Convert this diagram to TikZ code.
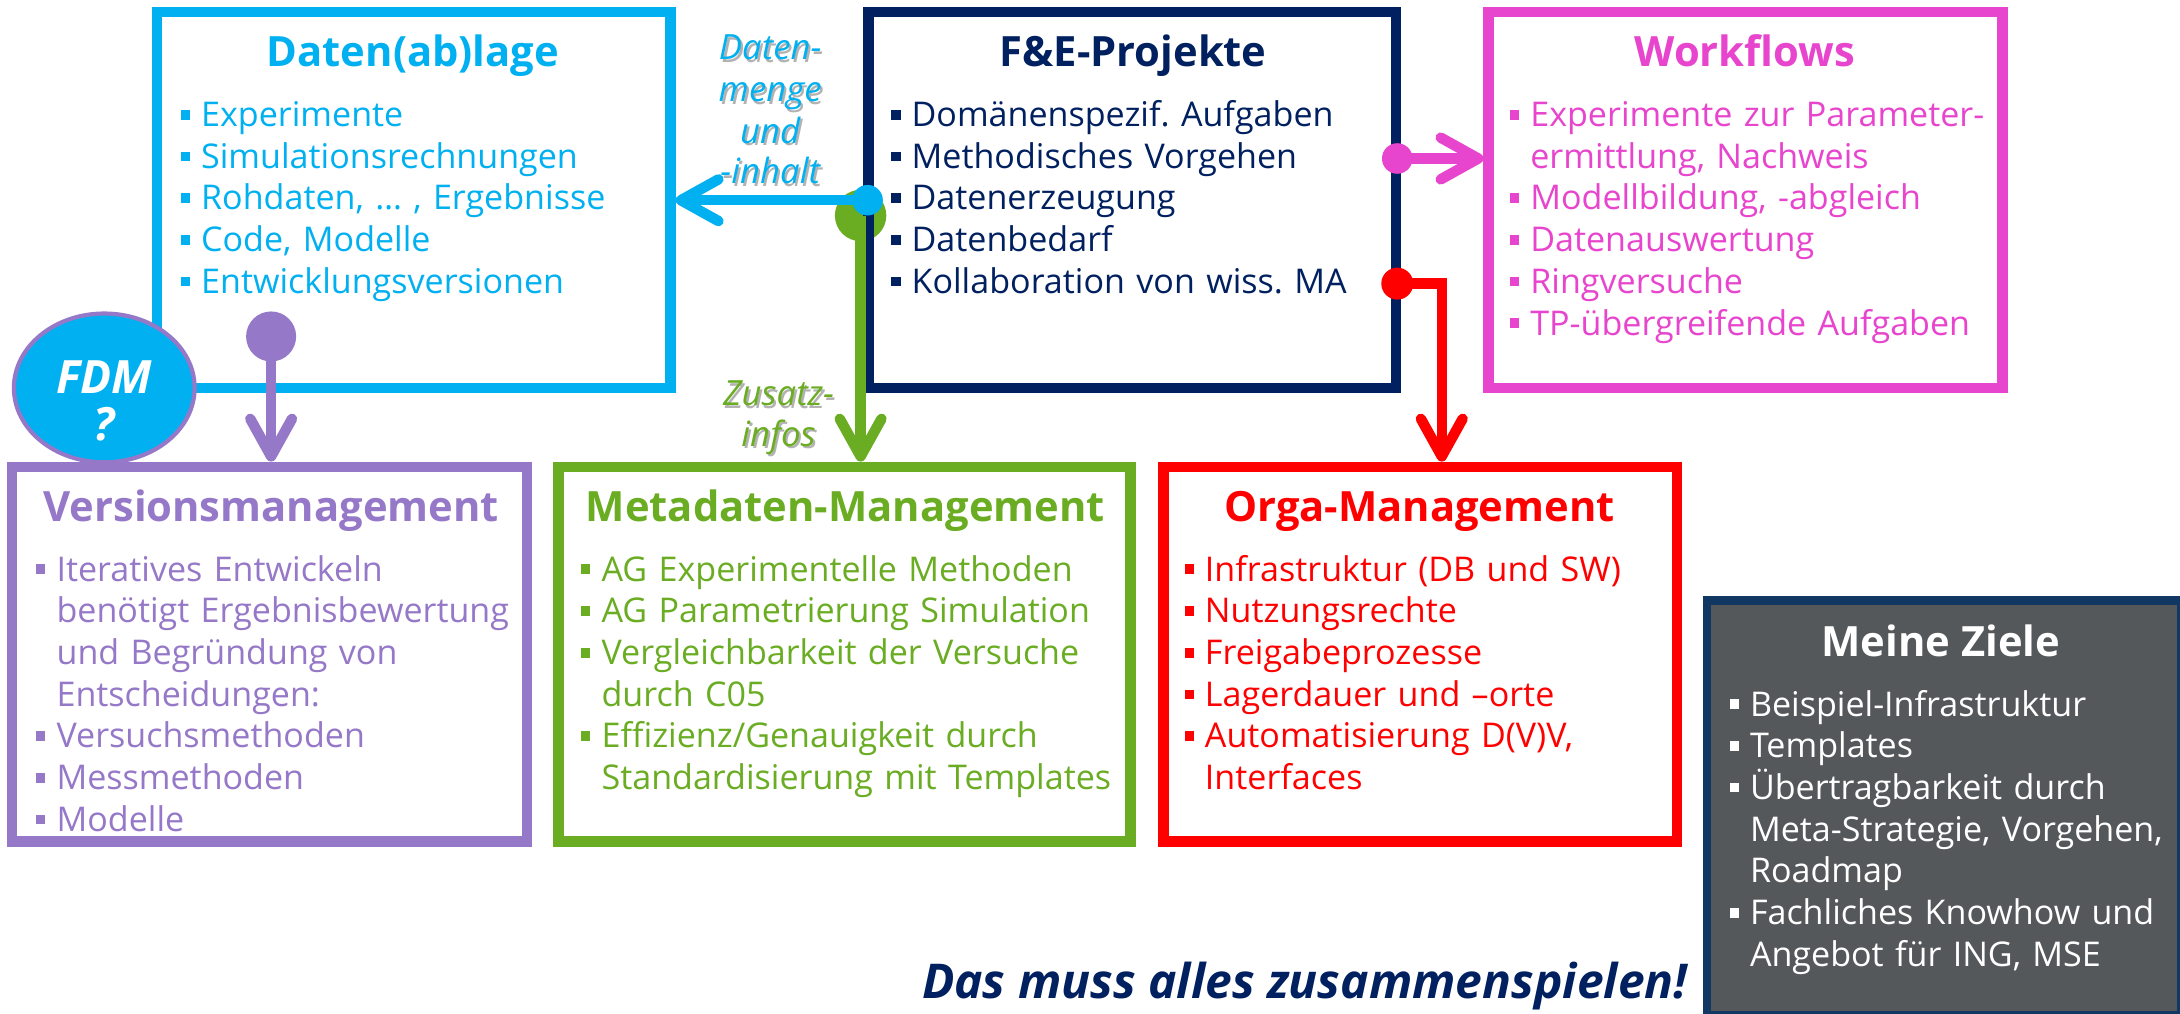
\documentclass[tikz,border=0pt]{standalone}
\usepackage{fontspec}
\setmainfont{Open Sans}
\usetikzlibrary{arrows.meta,shapes.geometric}

\definecolor{cCyan}{HTML}{00B0F0}
\definecolor{cNavy}{HTML}{002060}
\definecolor{cMag}{HTML}{E845CE}
\definecolor{cPurp}{HTML}{9678C8}
\definecolor{cGreen}{HTML}{6AAD23}
\definecolor{cRed}{HTML}{FF0000}
\definecolor{cGray}{HTML}{55585A}
\definecolor{cZiel}{HTML}{113763}

% bulleted lists with square bullets and hanging indent
\newlength\bhang \setlength\bhang{14.5pt}
\newcommand\bodysize{\fontsize{24.5}{30}\selectfont\frenchspacing}
\newcommand\titlesize{\fontsize{30}{36}\selectfont\bfseries}
\newcommand\bmark{\hangindent=\bhang\hangafter=1%
  \makebox[\bhang][l]{\raisebox{5pt}{\rule{6.5pt}{7pt}}}}
\newcommand\bfirst{\noindent\bmark}
\newcommand\bitem{\par\noindent\bmark}

\tikzset{
  box/.style={rectangle, line width=7.5pt, inner sep=0pt},
  ttl/.style={anchor=base, inner sep=0pt, font=\titlesize},
  body/.style={anchor=base west, inner sep=0pt, text width=420pt, font=\bodysize},
  conn/.style={line width=7.5pt},
  tip/.style={-{Straight Barb[length=27pt,width=30pt,round]}},
  dot/.style={circle, inner sep=0pt, minimum size=#1},
  lbl/.style={anchor=base, inner sep=0pt, font=\fontsize{25}{30}\selectfont\itshape},
}

\begin{document}
\begin{tikzpicture}[x=1pt,y=-1pt]
\useasboundingbox[fill=white] (0,0) rectangle (1568,729);

% green link from F&E-Projekte to Metadaten (drawn under the boxes)
\node[dot=37pt, fill=cGreen] (gdot) at (619,155) {};

% boxes
\node[box, draw=cCyan, minimum width=369.5pt, minimum height=270.5pt] (daten) at (297.5,144) {};
\node[box, draw=cNavy, minimum width=379.5pt, minimum height=270.5pt] (fe) at (814.5,144) {};
\node[box, draw=cMag, minimum width=369.5pt, minimum height=270.5pt] (wf) at (1255.5,144) {};
\node[box, draw=cPurp, minimum width=370.5pt, minimum height=269.5pt] (ver) at (194,470.5) {};
\node[box, draw=cGreen, minimum width=411.5pt, minimum height=269.5pt] (meta) at (607.5,470.5) {};
\node[box, draw=cRed, minimum width=369.5pt, minimum height=269.5pt] (orga) at (1021.5,470.5) {};
\node[rectangle, line width=6pt, inner sep=0pt, draw=cZiel, fill=cGray,
      minimum width=341pt, minimum height=298pt] (ziele) at (1398.5,581) {};

\draw[conn, tip, cGreen] (gdot.center) -- (gdot.center |- meta.north);

% Daten(ab)lage
\node[ttl, text=cCyan] (tdaten) at (297,48) {Daten(ab)lage};
\node[body, text=cCyan] (bdaten) at (130,91) {%
  \bfirst Experimente
  \bitem Simulationsrechnungen
  \bitem Rohdaten, … , Ergebnisse
  \bitem Code, Modelle
  \bitem Entwicklungsversionen\par};

% F&E-Projekte
\node[ttl, text=cNavy] (tfe) at (815,48) {F\&E-Projekte};
\node[body, text=cNavy] (bfe) at (641,91) {%
  \bfirst Domänenspezif. Aufgaben
  \bitem Methodisches Vorgehen
  \bitem Datenerzeugung
  \bitem Datenbedarf
  \bitem Kollaboration von wiss. MA\par};

% Workflows
\node[ttl, text=cMag] (twf) at (1255,48) {Workflows};
\node[body, text=cMag] (bwf) at (1086,91) {%
  \bfirst Experimente zur Parameter-\newline ermittlung, Nachweis
  \bitem Modellbildung, -abgleich
  \bitem Datenauswertung
  \bitem Ringversuche
  \bitem TP-übergreifende Aufgaben\par};

% Versionsmanagement
\node[ttl, text=cPurp] (tver) at (195,375) {Versionsmanagement};
\node[body, text=cPurp] (bver) at (26,418) {%
  \bfirst Iteratives Entwickeln\newline benötigt Ergebnisbewertung\newline und Begründung von\newline Entscheidungen:
  \bitem Versuchsmethoden
  \bitem Messmethoden
  \bitem Modelle\par};

% Metadaten-Management
\node[ttl, text=cGreen] (tmeta) at (608,375) {Metadaten-Management};
\node[body, text=cGreen] (bmeta) at (418,418) {%
  \bfirst AG Experimentelle Methoden
  \bitem AG Parametrierung Simulation
  \bitem Vergleichbarkeit der Versuche\newline durch C05
  \bitem Effizienz/Genauigkeit durch\newline Standardisierung mit Templates\par};

% Orga-Management
\node[ttl, text=cRed] (torga) at (1021,375) {Orga-Management};
\node[body, text=cRed] (borga) at (852,418) {%
  \bfirst Infrastruktur (DB und SW)
  \bitem Nutzungsrechte
  \bitem Freigabeprozesse
  \bitem Lagerdauer und –orte
  \bitem Automatisierung D(V)V,\newline Interfaces\par};

% Meine Ziele
\node[ttl, text=white] (tziele) at (1396,472) {Meine Ziele};
\node[body, text=white] (bziele) at (1244,515) {%
  \bfirst Beispiel-Infrastruktur
  \bitem Templates
  \bitem Übertragbarkeit durch\newline Meta-Strategie, Vorgehen,\newline Roadmap
  \bitem Fachliches Knowhow und\newline Angebot für ING, MSE\par};

% connectors
\node[dot=22pt, fill=cCyan] (bdot) at (624,144) {};
\draw[conn, tip, cCyan] (bdot.center) -- (bdot.center -| daten.east);

\node[dot=22pt, fill=cMag] (mdot) at (1005,114) {};
\draw[conn, tip, cMag] (mdot.center) -- (mdot.center -| wf.west);

\node[dot=23pt, fill=cRed] (rdot) at (1005,204) {};
\coordinate (rbend) at (1037,204);
\draw[conn, tip, cRed] (rdot.center) -- (rbend) -- (rbend |- orga.north);

\node[dot=36pt, fill=cPurp] (pdot) at (195,242) {};
\draw[conn, tip, cPurp] (pdot.center) -- (pdot.center |- ver.north);

% connector labels with a soft drop shadow
\foreach \t/\y [count=\i] in {Daten-/43, menge/73, und/103, -inhalt/132} {
  \node[lbl, text=black!30] (sB\i) at (555.5,\y+1.8) {\t};
  \node[lbl, text=cCyan] (lB\i) at (554,\y) {\t};
}
\foreach \t/\y [count=\i] in {Zusatz-/292, infos/321} {
  \node[lbl, text=black!30] (sG\i) at (561.5,\y+1.8) {\t};
  \node[lbl, text=cGreen] (lG\i) at (560,\y) {\t};
}

% FDM badge
\node[ellipse, draw=cPurp, line width=3pt, fill=cCyan, inner sep=0pt,
      minimum width=130pt, minimum height=107pt] (fdm) at (75,279) {};
\node[anchor=base, inner sep=0pt, text=white, font=\fontsize{33}{36}\selectfont\bfseries\itshape] (fdmt) at (75,283) {FDM};
\node[anchor=base, inner sep=0pt, text=white, font=\fontsize{33}{36}\selectfont\bfseries\itshape] (fdmq) at (75,317) {?};

% closing statement
\node[anchor=base east, inner sep=0pt, text=cNavy, font=\fontsize{34.5}{40}\selectfont\bfseries\itshape] (motto) at (1214,718) {Das muss alles zusammenspielen!};
\end{tikzpicture}
\end{document}
